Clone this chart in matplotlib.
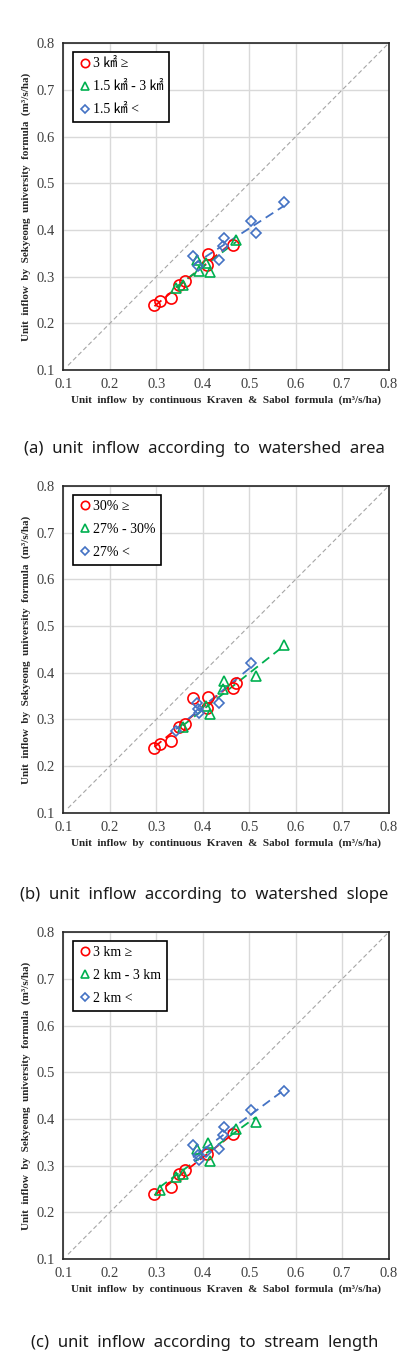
import numpy as np
import matplotlib
matplotlib.use("Agg")
import matplotlib.pyplot as plt

# all basins: continuous Kraven & Sabol (x) vs Sekyeong univ. (y), m3/s/ha
kraven = [0.296, 0.307, 0.332, 0.348, 0.362, 0.412, 0.409, 0.465,
          0.342, 0.357, 0.387, 0.393, 0.407, 0.416, 0.472,
          0.379, 0.389, 0.436, 0.446, 0.444, 0.504, 0.514, 0.574]
sekyeong = [0.239, 0.247, 0.254, 0.283, 0.290, 0.349, 0.325, 0.367,
            0.276, 0.283, 0.335, 0.313, 0.329, 0.311, 0.379,
            0.345, 0.323, 0.336, 0.382, 0.366, 0.420, 0.394, 0.459]

# group index per basin (0 = large, 1 = middle, 2 = small)
area_group = [0, 0, 0, 0, 0, 0, 0, 0,
              1, 1, 1, 1, 1, 1, 1,
              2, 2, 2, 2, 2, 2, 2, 2]
slope_group = [0, 0, 0, 0, 0, 0, 0, 0,
               2, 1, 2, 2, 1, 1, 0,
               0, 2, 2, 1, 1, 2, 1, 1]
length_group = [0, 1, 0, 0, 0, 1, 0, 0,
                1, 1, 1, 2, 2, 1, 1,
                2, 2, 2, 2, 2, 2, 1, 2]

area_labels = ["3 ㎢ ≥", "1.5 ㎢ - 3 ㎢", "1.5 ㎢ <"]
slope_labels = ["30% ≥", "27% - 30%", "27% <"]
length_labels = ["3 km ≥", "2 km - 3 km", "2 km <"]

captions = ["(a)  unit  inflow  according  to  watershed  area",
            "(b)  unit  inflow  according  to  watershed  slope",
            "(c)  unit  inflow  according  to  stream  length"]

colors = ["#ff0000", "#00b050", "#4472c4"]
markers = ["o", "^", "D"]
msizes = [8, 7.5, 5]

serif = ["Liberation Serif", "Noto Sans CJK KR", "DejaVu Sans"]

fig = plt.figure(figsize=(4.09, 13.63), dpi=100)

panels = [(area_group, area_labels, 0.7285),
          (slope_group, slope_labels, 0.4037),
          (length_group, length_labels, 0.0763)]
caption_y = [0.6645, 0.3375, 0.0085]

x = np.array(kraven)
y = np.array(sekyeong)

for i, (groups, labels, bottom) in enumerate(panels):
    ax = fig.add_axes([0.155, bottom, 0.795, 0.2397])
    groups = np.array(groups)

    ax.plot([0.11, 0.8], [0.11, 0.8], color="#a6a6a6", lw=0.8,
            ls=(0, (4, 2.5)), zorder=1)

    handles = []
    for g in range(3):
        gx = x[groups == g]
        gy = y[groups == g]
        h, = ax.plot(gx, gy, ls="none", marker=markers[g], ms=msizes[g],
                     mfc="none", mec=colors[g], mew=1.2, zorder=3,
                     label=labels[g])
        handles.append(h)
        k, b = np.polyfit(gx, gy, 1)
        xs = np.array([gx.min(), gx.max()])
        ax.plot(xs, k * xs + b, color=colors[g], lw=1.3,
                ls=(0, (5, 3)), zorder=2)

    ticks = np.arange(0.1, 0.81, 0.1)
    ax.set_xlim(0.1, 0.8)
    ax.set_ylim(0.1, 0.8)
    ax.set_xticks(ticks)
    ax.set_yticks(ticks)
    ax.set_xticklabels([f"{t:.1f}" for t in ticks])
    ax.set_yticklabels([f"{t:.1f}" for t in ticks])
    ax.grid(True, color="#d9d9d9", lw=1.0)
    ax.set_axisbelow(True)
    ax.tick_params(length=0, pad=6, labelsize=10.5, colors="#404040")
    for lab in ax.get_xticklabels() + ax.get_yticklabels():
        lab.set_family(serif)
    for sp in ax.spines.values():
        sp.set_linewidth(1.2)
        sp.set_color("#262626")

    ax.set_xlabel("Unit  inflow  by  continuous  Kraven  &  Sabol  formula  (m³/s/ha)",
                  family=serif, fontweight="bold", fontsize=8, labelpad=3,
                  color="#262626")
    ax.set_ylabel("Unit  inflow  by  Sekyeong  university  formula  (m³/s/ha)",
                  family=serif, fontweight="bold", fontsize=8, labelpad=4,
                  color="#262626")

    leg = ax.legend(handles=handles, loc="upper left",
                    bbox_to_anchor=(0.029, 0.974), frameon=True,
                    fancybox=False, edgecolor="black", framealpha=1,
                    prop={"family": serif, "size": 10}, handlelength=0.9,
                    handletextpad=0.15, labelspacing=0.72,
                    borderpad=0.4, borderaxespad=0, markerscale=0.75)
    leg.get_frame().set_linewidth(1.2)

    fig.text(0.5, caption_y[i], captions[i], ha="center", va="bottom",
             fontsize=12, family=["Noto Sans", "DejaVu Sans"], color="#1a1a1a")

fig.savefig("out.png", dpi=100)
